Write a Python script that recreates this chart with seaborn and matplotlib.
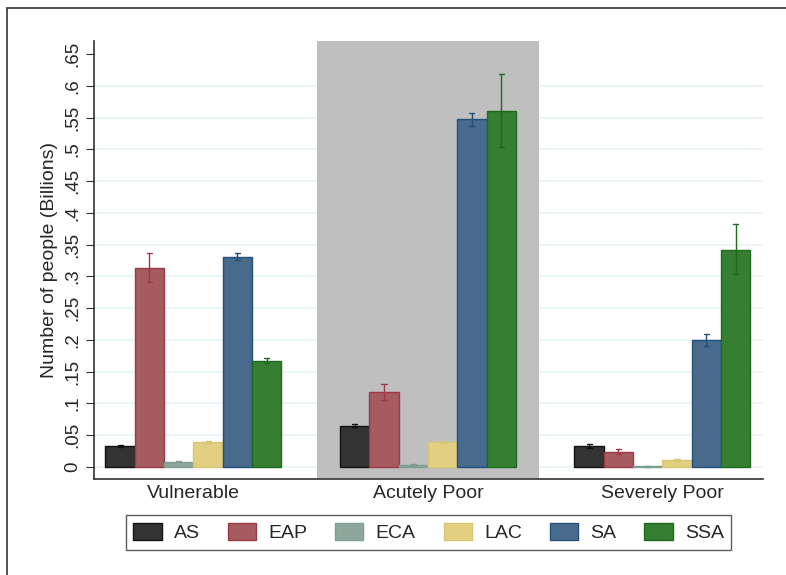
import numpy as np
import pandas as pd
import matplotlib
matplotlib.use("Agg")
import matplotlib.pyplot as plt
import seaborn as sns

groups = ["Vulnerable", "Acutely Poor", "Severely Poor"]
regions = ["AS", "EAP", "ECA", "LAC", "SA", "SSA"]

# values in billions, one list per region (Vulnerable, Acutely Poor, Severely Poor)
AS = [0.033, 0.065, 0.033]
EAP = [0.313, 0.118, 0.024]
ECA = [0.008, 0.003, 0.001]
LAC = [0.039, 0.039, 0.011]
SA = [0.330, 0.547, 0.200]
SSA = [0.167, 0.561, 0.342]

AS_lo = [0.031, 0.063, 0.030]
AS_hi = [0.035, 0.068, 0.036]
EAP_lo = [0.291, 0.105, 0.021]
EAP_hi = [0.336, 0.131, 0.028]
ECA_lo = [0.007, 0.002, 0.000]
ECA_hi = [0.009, 0.004, 0.002]
LAC_lo = [0.037, 0.037, 0.010]
LAC_hi = [0.041, 0.041, 0.013]
SA_lo = [0.325, 0.536, 0.191]
SA_hi = [0.336, 0.557, 0.210]
SSA_lo = [0.164, 0.503, 0.304]
SSA_hi = [0.172, 0.619, 0.383]

fills = ["#333333", "#A65B61", "#8DA79C", "#E2CF81", "#476A8D", "#357E32"]
edges = ["#111111", "#9B3A45", "#7E9C8F", "#D8C577", "#23507A", "#1E6B1E"]

vals = [AS, EAP, ECA, LAC, SA, SSA]
los = [AS_lo, EAP_lo, ECA_lo, LAC_lo, SA_lo, SSA_lo]
his = [AS_hi, EAP_hi, ECA_hi, LAC_hi, SA_hi, SSA_hi]

df = pd.DataFrame({
    "group": [g for r in regions for g in groups],
    "region": [r for r in regions for g in groups],
    "value": [v for vs in vals for v in vs],
})

sns.set_style("white")
plt.rcParams["font.family"] = ["Liberation Sans", "DejaVu Sans"]

fig = plt.figure(figsize=(7.86, 5.75), dpi=100)
ax = fig.add_axes([94 / 786, 1 - 479 / 575, (763 - 94) / 786, (479 - 41) / 575])

ax.axvspan(0.525, 1.475, facecolor="#BFBFBF", edgecolor="none", lw=0, zorder=1)
for t in np.arange(0, 0.601, 0.05):
    ax.axhline(t, color="#EAF2F3", lw=1.2, zorder=0.5)

sns.barplot(data=df, x="group", y="value", hue="region", order=groups,
            hue_order=regions, palette=fills, errorbar=None, width=0.75,
            saturation=1, ax=ax, zorder=2)

# one container per region; add edges and error bars
for i, cont in enumerate(ax.containers):
    for j, p in enumerate(cont.patches):
        p.set_edgecolor(edges[i])
        p.set_linewidth(1.0)
        cx = p.get_x() + p.get_width() / 2
        ax.plot([cx, cx], [los[i][j], his[i][j]], color=edges[i], lw=1, zorder=3)
        for yv in (los[i][j], his[i][j]):
            ax.plot([cx - 0.011, cx + 0.011], [yv, yv], color=edges[i], lw=1, zorder=3)

ax.set_xlim(-0.424, 2.429)
ax.set_ylim(-0.019, 0.6705)
ticks = np.arange(0, 0.651, 0.05)
ax.set_yticks(ticks)
ax.set_yticklabels(["0"] + [("%.2f" % t).lstrip("0").rstrip("0") for t in ticks[1:]],
                   rotation=90, va="center", fontsize=13.5)
ax.tick_params(axis="y", length=6, width=0.8, color="#333333", pad=3, left=True)
ax.tick_params(axis="x", length=0, labelsize=14, pad=4)
ax.set_xlabel("")
ax.set_ylabel("Number of people (Billions)", fontsize=14, labelpad=5)

sns.despine(ax=ax, top=True, right=True)
for s in ("left", "bottom"):
    ax.spines[s].set_color("#333333")
    ax.spines[s].set_linewidth(1.2)

leg = ax.legend(loc="center", bbox_to_anchor=(428.5 / 786, 1 - 532.5 / 575),
                bbox_transform=fig.transFigure, ncol=6, frameon=True,
                fontsize=14, handlelength=1.45, handleheight=1.0,
                columnspacing=1.45, handletextpad=0.62, borderpad=0.4,
                fancybox=False)
leg.get_frame().set_edgecolor("#333333")
leg.get_frame().set_linewidth(1.0)
for h, e in zip(leg.legend_handles, edges):
    h.set_edgecolor(e)

fig.patches.append(plt.Rectangle((7 / 786, -0.1), 1.2, 1 - 8 / 575 + 0.1,
                                 transform=fig.transFigure, fill=False,
                                 edgecolor="#333333", lw=1.2))

fig.savefig("out.png", dpi=100)
